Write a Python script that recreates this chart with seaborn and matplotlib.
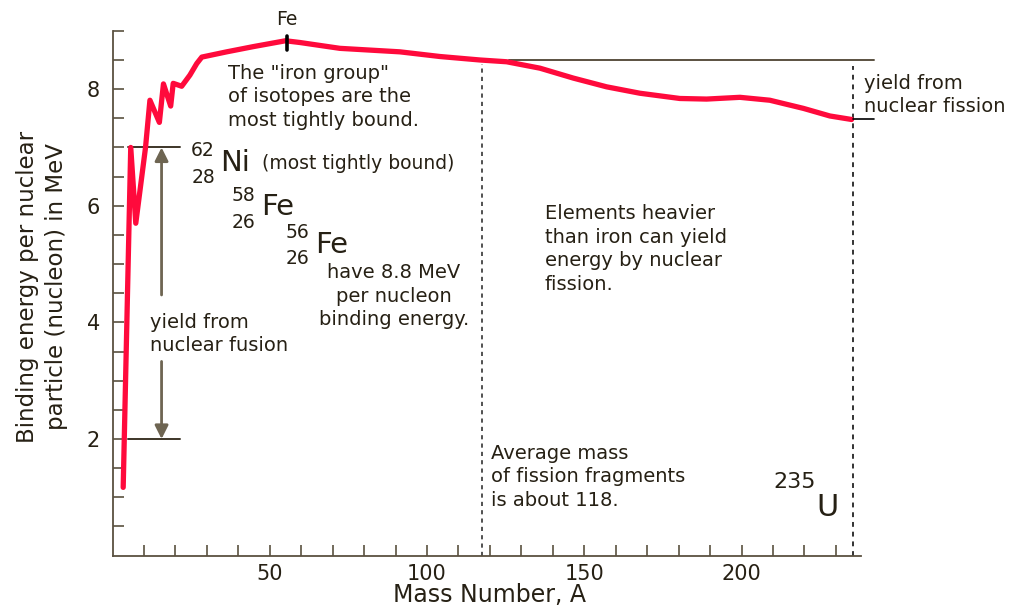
import numpy as np
import pandas as pd
import matplotlib
matplotlib.use('Agg')
import matplotlib.pyplot as plt
from matplotlib.ticker import FixedLocator
import seaborn as sns

# Binding energy curve
mass_number = [3.4, 5.8, 7.4, 10.5, 11.9, 14.9, 16.2, 18.5, 19.3, 22.0, 24.6, 26.8,
               28.4, 36.3, 44.8, 55.0, 59.6, 72.3, 91.4, 104.1, 116.9, 125.3, 135.9,
               146.5, 157.1, 167.7, 180.4, 188.9, 199.5, 209.0, 219.7, 228.1, 235.0]
binding_energy = [1.17, 7.0, 5.7, 7.0, 7.81, 7.43, 8.09, 7.71, 8.1, 8.05, 8.24, 8.44,
                  8.55, 8.64, 8.73, 8.83, 8.80, 8.70, 8.64, 8.56, 8.50, 8.47, 8.36,
                  8.19, 8.04, 7.93, 7.84, 7.83, 7.86, 7.81, 7.67, 7.54, 7.48]

x_major = [50, 100, 150, 200]
x_minor = [10, 20, 30, 40, 60, 70, 80, 90, 110, 120, 130, 140, 160, 170, 180, 190,
           210, 220, 230]
y_major = [2, 4, 6, 8]
y_minor = [0.5, 1, 1.5, 2.5, 3, 3.5, 4.5, 5, 5.5, 6.5, 7, 7.5, 8.5, 9]

fusion_levels = [2.0, 7.0]      # yield from nuclear fusion, bottom/top
fission_level = 8.5             # yield from nuclear fission, top
u235_level = 7.48
avg_fragment_mass = 117.4
uranium_mass = 235.5
iron_peak = 55.5

df = pd.DataFrame({'A': mass_number, 'BE': binding_energy})

sns.set_style('ticks')
plt.rcParams['font.family'] = ['DejaVu Sans']

txt = '#262014'
axc = '#5a5140'
red = '#ff0a3c'

fig = plt.figure(figsize=(10.13, 6.06), dpi=100)
ax = fig.add_axes([112.5 / 1013, 50.4 / 606, 754.8 / 1013, 553.9 / 606])
ax.set_xlim(0, 240)
ax.set_ylim(0, 9.5)

sns.lineplot(data=df, x='A', y='BE', sort=False, color=red, lw=3.8,
             ax=ax, clip_on=False, zorder=3, solid_joinstyle='round')

# spines and ticks
sns.despine(ax=ax)
ax.spines['left'].set_bounds(0, 9)
ax.spines['bottom'].set_bounds(0, 238)
for s in ['left', 'bottom']:
    ax.spines[s].set_color(axc)
    ax.spines[s].set_linewidth(1.3)
ax.xaxis.set_major_locator(FixedLocator(x_major))
ax.xaxis.set_minor_locator(FixedLocator(x_minor))
ax.yaxis.set_major_locator(FixedLocator(y_major))
ax.yaxis.set_minor_locator(FixedLocator(y_minor))
ax.tick_params(which='both', direction='in', length=8, width=1.2, color=axc,
               labelcolor=txt, labelsize=15)
ax.tick_params(axis='y', pad=9)
ax.tick_params(axis='x', pad=6)

ax.set_xlabel('Mass Number, A', fontsize=17, color=txt)
ax.xaxis.set_label_coords(0.5, -0.05)
ax.set_ylabel('Binding energy per nuclear\nparticle (nucleon) in MeV',
              fontsize=16.5, color=txt, linespacing=1.35)
ax.yaxis.set_label_coords(-0.059, 0.485)

# fusion yield bracket
for lv in fusion_levels:
    ax.plot([5, 21.5], [lv, lv], color='#3d3528', lw=1.4, zorder=2)
arrow = dict(arrowstyle='-|>', color='#6e6552', lw=2, mutation_scale=20,
             shrinkA=0, shrinkB=0)
ax.annotate('', xy=(15.6, fusion_levels[1]), xytext=(15.6, 4.47), arrowprops=arrow)
ax.annotate('', xy=(15.6, fusion_levels[0]), xytext=(15.6, 3.33), arrowprops=arrow)
ax.text(11.9, 3.8, 'yield from\nnuclear fusion', fontsize=14, color=txt,
        va='center', ha='left', linespacing=1.3)

# fission yield
ax.plot([126, 242], [fission_level, fission_level], color=axc, lw=1.4,
        clip_on=False, zorder=2)
ax.plot([uranium_mass, 242], [u235_level, u235_level], color='black', lw=1.2,
        clip_on=False, zorder=4)
ax.plot([avg_fragment_mass, avg_fragment_mass], [0, 8.44], color='#333',
        lw=1.2, ls=(0, (2.5, 2.5)))
ax.plot([uranium_mass, uranium_mass], [0, 8.39], color='#333', lw=1.4,
        ls=(0, (2.5, 2.5)), clip_on=False)
ax.text(238.9, 7.9, 'yield from\nnuclear fission', fontsize=14, color=txt,
        va='center', ha='left', linespacing=1.3, clip_on=False)

# iron peak marker
ax.plot([iron_peak, iron_peak], [8.67, 8.92], color='black', lw=2.6, zorder=4)
ax.text(iron_peak, 9.19, 'Fe', fontsize=13.5, color=txt, ha='center', va='center')

ax.text(36.7, 7.87, 'The "iron group"\nof isotopes are the\nmost tightly bound.',
        fontsize=14, color=txt, va='center', ha='left', linespacing=1.3)

# nuclide labels
nuclides = [
    ('62', '28', 'Ni', 28.8, 6.94, 6.49, 39.0, 6.73),
    ('58', '26', 'Fe', 41.5, 6.18, 5.72, 52.6, 5.98),
    ('56', '26', 'Fe', 58.7, 5.55, 5.09, 69.8, 5.33),
]
for top, bot, sym, xn, yt, yb, xs, ys in nuclides:
    ax.text(xn, yt, top, fontsize=13.5, color=txt, ha='center', va='center')
    ax.text(xn, yb, bot, fontsize=13.5, color=txt, ha='center', va='center')
    ax.text(xs, ys, sym, fontsize=21, color=txt, ha='center', va='center')
ax.text(47.5, 6.73, '(most tightly bound)', fontsize=13.5, color=txt,
        ha='left', va='center')
ax.text(89.5, 4.45, 'have 8.8 MeV\nper nucleon\nbinding energy.', fontsize=14,
        color=txt, ha='center', va='center', multialignment='center',
        linespacing=1.3)

ax.text(137.5, 5.26, 'Elements heavier\nthan iron can yield\nenergy by nuclear\nfission.',
        fontsize=14, color=txt, ha='left', va='center', linespacing=1.3)
ax.text(120.4, 1.35, 'Average mass\nof fission fragments\nis about 118.',
        fontsize=14, color=txt, ha='left', va='center', linespacing=1.3)

ax.text(217, 1.26, '235', fontsize=16, color=txt, ha='center', va='center')
ax.text(227.5, 0.83, 'U', fontsize=22, color=txt, ha='center', va='center')

fig.savefig('out.png', dpi=100, facecolor='white')
